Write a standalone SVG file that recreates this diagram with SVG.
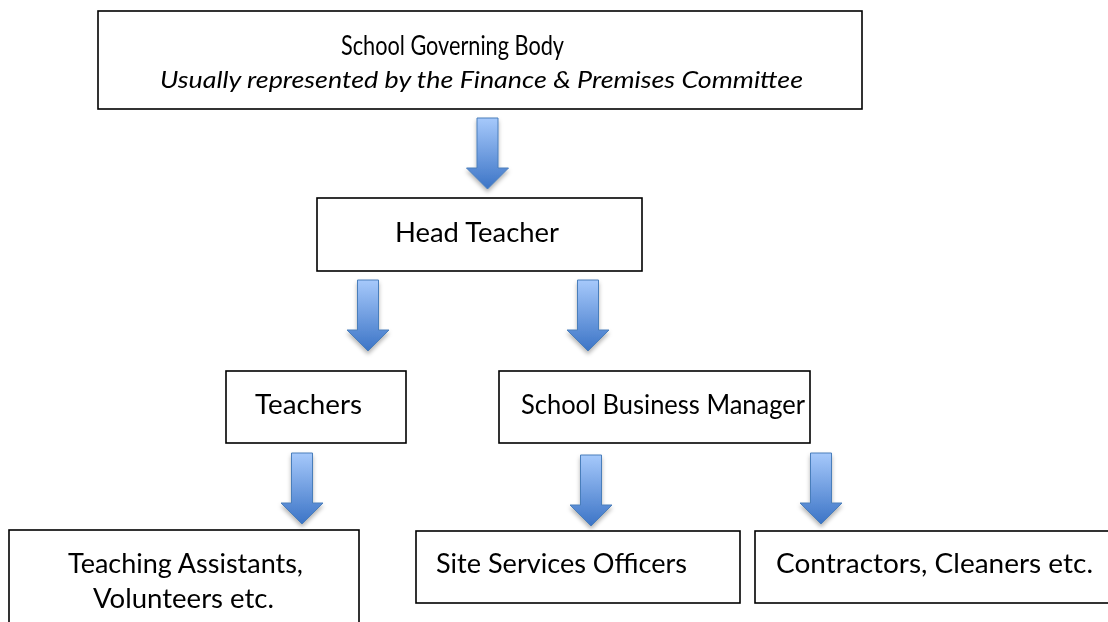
<svg xmlns="http://www.w3.org/2000/svg" xmlns:xlink="http://www.w3.org/1999/xlink" width="1108" height="622" viewBox="0 0 1108 622">
<style>
.box{fill:#fff;stroke:#000;stroke-width:1.6}
.t{font-family:Lato,"Liberation Sans",sans-serif;font-size:26px;fill:#000}
.i{font-style:italic;font-size:24px}
.arr{fill:url(#ag);stroke:#4a7ebb;stroke-width:1}
</style>
<defs>
<linearGradient id="ag" x1="0" y1="0" x2="0" y2="1">
<stop offset="0" stop-color="#a6c9fb"/>
<stop offset="1" stop-color="#3c74c6"/>
</linearGradient>
<filter id="sh" x="-50%" y="-20%" width="200%" height="150%">
<feDropShadow dx="0" dy="3" stdDeviation="2" flood-color="#000" flood-opacity="0.3"/>
</filter>
<path id="dn" d="M-10.5,0 H10.5 V50 H21 L0,71 L-21,50 H-10.5 Z"/>
</defs>
<rect width="1108" height="622" fill="#fff"/>
<g id="connectors" filter="url(#sh)">
<use xlink:href="#dn" class="arr" transform="translate(487.5,118)"/>
<use xlink:href="#dn" class="arr" transform="translate(368,280)"/>
<use xlink:href="#dn" class="arr" transform="translate(588,280)"/>
<use xlink:href="#dn" class="arr" transform="translate(302,453)"/>
<use xlink:href="#dn" class="arr" transform="translate(591,455)"/>
<use xlink:href="#dn" class="arr" transform="translate(821,453)"/>
</g>
<g id="governing-body">
<rect class="box" x="98" y="11" width="764" height="98"/>
<text class="t" x="341" y="55" font-size="25" textLength="223" lengthAdjust="spacingAndGlyphs">School Governing Body</text>
<text class="t i" x="160" y="88" textLength="643" lengthAdjust="spacingAndGlyphs">Usually represented by the Finance &amp; Premises Committee</text>
</g>
<g id="head-teacher">
<rect class="box" x="317" y="198" width="325" height="73"/>
<text class="t" x="395" y="242" textLength="164" lengthAdjust="spacingAndGlyphs">Head Teacher</text>
</g>
<g id="teachers">
<rect class="box" x="226" y="371" width="180" height="72"/>
<text class="t" x="255" y="414" textLength="107" lengthAdjust="spacingAndGlyphs">Teachers</text>
</g>
<g id="business-manager">
<rect class="box" x="499" y="371" width="311" height="72"/>
<text class="t" x="521" y="414" textLength="284" lengthAdjust="spacingAndGlyphs">School Business Manager</text>
</g>
<g id="teaching-assistants">
<rect class="box" x="9" y="530" width="350" height="100"/>
<text class="t" x="68" y="573" textLength="235" lengthAdjust="spacingAndGlyphs">Teaching Assistants,</text>
<text class="t" x="93" y="608" textLength="181" lengthAdjust="spacingAndGlyphs">Volunteers etc.</text>
</g>
<g id="site-services">
<rect class="box" x="416" y="531" width="324" height="72"/>
<text class="t" x="436" y="573" textLength="251" lengthAdjust="spacingAndGlyphs">Site Services Officers</text>
</g>
<g id="contractors">
<rect class="box" x="755" y="531" width="360" height="72"/>
<text class="t" x="776" y="573" textLength="317" lengthAdjust="spacingAndGlyphs">Contractors, Cleaners etc.</text>
</g>
</svg>
